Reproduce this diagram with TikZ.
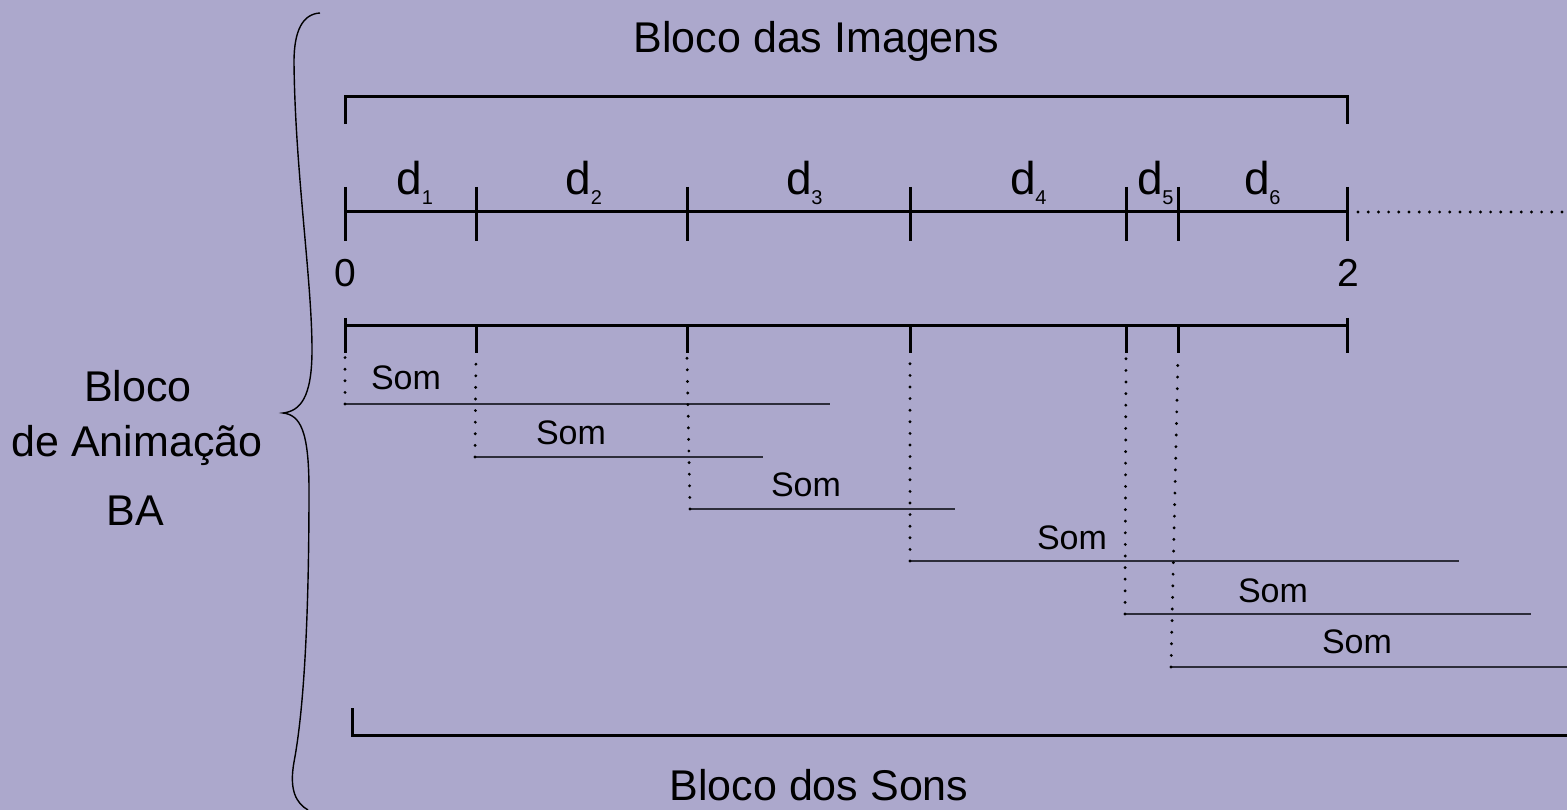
\documentclass[tikz,border=0pt]{standalone}
\usepackage{fontspec}
\setmainfont{Liberation Sans}
\definecolor{bg}{RGB}{172,168,204}
\definecolor{somline}{RGB}{45,45,58}
\newcommand{\durlabel}[1]{d\hspace{-0.5pt}\raisebox{-10pt}{\fontsize{20}{20}\selectfont #1}}

\begin{document}
\begin{tikzpicture}[x=1pt,y=-1pt,
  axis/.style={line width=3pt},
  brk/.style={line width=3pt, line join=miter},
  somln/.style={line width=1.8pt, draw=somline},
  dots/.style={line width=3.2pt, line cap=round, dash pattern=on 0pt off 11.6pt},
  hdots/.style={line width=3.2pt, line cap=round, dash pattern=on 0pt off 10.2pt},
  big/.style={font=\fontsize{43}{50}\selectfont, inner sep=0pt, anchor=base},
  num/.style={font=\fontsize{39}{45}\selectfont, inner sep=0pt, anchor=base},
  dlab/.style={font=\fontsize{46}{50}\selectfont, inner sep=0pt, anchor=base west},
  som/.style={font=\fontsize{34}{40}\selectfont, inner sep=0pt, anchor=base},
]
\fill[bg] (0,0) rectangle (1567,810);
\useasboundingbox (0,0) rectangle (1567,810);

% tick positions on both time axes
\foreach \n/\x in {0/345,1/476,2/687,3/910,4/1126,5/1178,6/1347}{
  \coordinate (t\n) at (\x,212);
  \coordinate (u\n) at (\x,326);
}

% image block bracket
\draw[brk] (345,124) -- (345,97) -- (1347,97) -- (1347,124);
\node[big] (title) at (816.5,53) {Bloco das Imagens};

% image time axis
\draw[axis] (t0) -- (t6);
\foreach \x in {345,476,687,910,1126,1178,1347}
  \draw[axis] (\x,187) -- (\x,241);
\coordinate (tend) at (1567,212);
\draw[hdots] ([xshift=11pt]t6) -- (tend);

\node[dlab] (d1) at (396.5,195) {\durlabel{1}};
\node[dlab] (d2) at (565.5,195) {\durlabel{2}};
\node[dlab] (d3) at (786,195) {\durlabel{3}};
\node[dlab] (d4) at (1010,195) {\durlabel{4}};
\node[dlab] (d5) at (1137,195) {\durlabel{5}};
\node[dlab] (d6) at (1244,195) {\durlabel{6}};

\node[num] (zero) at (345.5,287) {0};
\node[num] (two) at (1348,287) {2};

% sound time axis
\draw[axis] (u0) -- (u6);
\draw[axis] (345,318) -- (345,353);
\draw[axis] (1347,318) -- (1347,353);
\foreach \x in {476,687,910,1126,1178}
  \draw[axis] (\x,326) -- (\x,353);

% sound tracks
\coordinate (s1a) at (345,404);  \coordinate (s1b) at (830,404);
\coordinate (s2a) at (475,457);  \coordinate (s2b) at (763,457);
\coordinate (s3a) at (690,509);  \coordinate (s3b) at (955,509);
\coordinate (s4a) at (910,561);  \coordinate (s4b) at (1459,561);
\coordinate (s5a) at (1125,614); \coordinate (s5b) at (1531,614);
\coordinate (s6a) at (1171,667); \coordinate (s6b) at (1567,667);

\foreach \i in {1,...,6}
  \draw[somln] (s\i a) -- (s\i b);

\draw[dots] (s1a) -- (345,356);
\draw[dots] (s2a) -- (476,356);
\draw[dots] (s3a) -- (687,356);
\draw[dots] (s4a) -- (910,356);
\draw[dots] (s5a) -- (1126,356);
\draw[dots] (s6a) -- (1178,356);

\node[som] (som1) at (406,389) {Som};
\node[som] (som2) at (571,444) {Som};
\node[som] (som3) at (806,496) {Som};
\node[som] (som4) at (1072,549) {Som};
\node[som] (som5) at (1273,602) {Som};
\node[som] (som6) at (1357,653) {Som};

% sound block bracket
\draw[brk] (352,708) -- (352,735) -- (1567,735);
\node[big] (sons) at (819,800) {Bloco dos Sons};

% animation block brace and label
\draw[line width=1.4pt] (320,13) .. controls (303,14) and (294,30) .. (294,62)
  .. controls (295,170) and (312,280) .. (312,350)
  .. controls (312,398) and (300,411) .. (283,413)
  .. controls (300,415) and (309,430) .. (309,490)
  .. controls (309,640) and (302,720) .. (294,762)
  .. controls (289,790) and (296,803) .. (308,810);

\node[big] (ba1) at (138,401) {Bloco};
\node[big] (ba2) at (137,456) {de Animação};
\node[big] (ba3) at (135,525) {BA};
\end{tikzpicture}
\end{document}
